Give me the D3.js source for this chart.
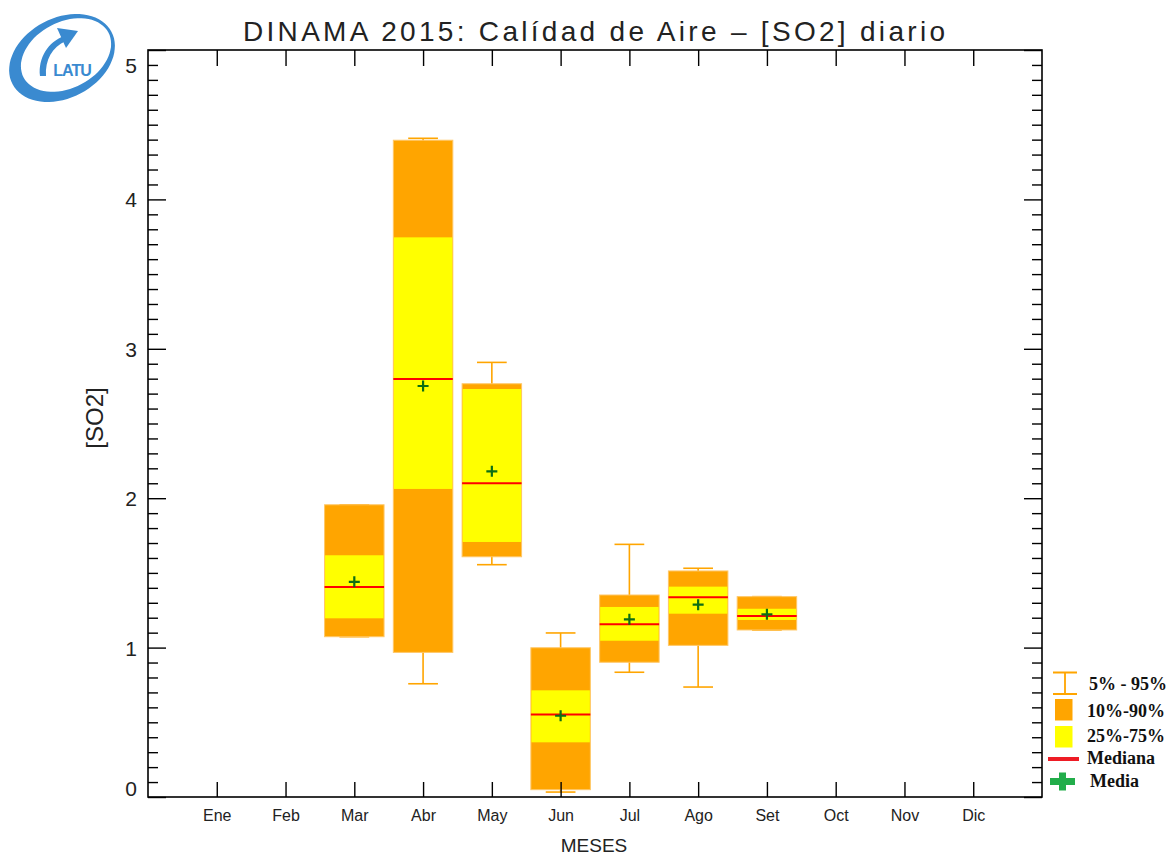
<!DOCTYPE html>
<html>
<head>
<meta charset="utf-8">
<script src="https://cdn.jsdelivr.net/npm/d3@7"></script>
<style>
  html, body { margin: 0; padding: 0; background: #fff; }
  svg { display: block; }
</style>
</head>
<body>
<svg id="chart" width="1173" height="855"></svg>
<script>
// ---- Data ----
const months = ["Ene","Feb","Mar","Abr","May","Jun","Jul","Ago","Set","Oct","Nov","Dic"];
const boxMonths = ["Mar","Abr","May","Jun","Jul","Ago","Set"];
const p5     = [1.073, 0.758, 1.555, 0.033, 0.835, 0.736, 1.118];
const p10    = [1.073, 0.968, 1.608, 0.049, 0.902, 1.015, 1.118];
const p25    = [1.196, 2.062, 1.707, 0.366, 1.046, 1.227, 1.185];
const median = [1.406, 2.798, 2.100, 0.553, 1.156, 1.337, 1.211];
const mean   = [1.440, 2.751, 2.180, 0.544, 1.189, 1.287, 1.223];
const p75    = [1.618, 3.746, 2.731, 0.714, 1.272, 1.408, 1.260];
const p90    = [1.956, 4.396, 2.766, 0.999, 1.352, 1.513, 1.341];
const p95    = [1.956, 4.409, 2.909, 1.098, 1.691, 1.531, 1.341];
const yMajorTicks = [0, 1, 2, 3, 4, 5];
const legendLabels = ["5% - 95%", "10%-90%", "25%-75%", "Mediana", "Media"];
const titleText = "DINAMA 2015: Calídad de Aire – [SO2] diario";

// ---- Layout ----
const L = 148, R = 1042, T = 50, B = 797;
const svg = d3.select("#chart");
const x = d3.scaleLinear().domain([0, 13]).range([L, R]);
const y = d3.scaleLinear().domain([0, 5]).range([B, T]);
const monthPos = m => x(months.indexOf(m) + 1);
const step = x(1) - x(0);
const boxW = step * 0.865;
const capW = boxW * 0.5;

const ORANGE = "#FFA500", YELLOW = "#FFFF00", EDGE = "#FFC766";
const sansFont = "'Liberation Sans', Arial, sans-serif";

// ---- Boxes ----
const data = boxMonths.map((m, i) => ({
  m, p5: p5[i], p10: p10[i], p25: p25[i], med: median[i], mean: mean[i],
  p75: p75[i], p90: p90[i], p95: p95[i]
}));
const g = svg.append("g");
data.forEach(d => {
  const cx = monthPos(d.m);
  // whiskers
  g.append("line").attr("x1", cx).attr("x2", cx).attr("y1", y(d.p95)).attr("y2", y(d.p5))
    .attr("stroke", ORANGE).attr("stroke-width", 1.6);
  [d.p5, d.p95].forEach(v => {
    g.append("line").attr("x1", cx - capW/2).attr("x2", cx + capW/2)
      .attr("y1", y(v)).attr("y2", y(v)).attr("stroke", ORANGE).attr("stroke-width", 1.6);
  });
  // 10-90 box
  g.append("rect").attr("x", cx - boxW/2).attr("width", boxW)
    .attr("y", y(d.p90)).attr("height", y(d.p10) - y(d.p90))
    .attr("fill", ORANGE).attr("stroke", EDGE).attr("stroke-width", 1);
  // 25-75 box
  g.append("rect").attr("x", cx - boxW/2 + 0.5).attr("width", boxW - 1)
    .attr("y", y(d.p75)).attr("height", y(d.p25) - y(d.p75))
    .attr("fill", YELLOW);
  // median
  g.append("line").attr("x1", cx - boxW/2).attr("x2", cx + boxW/2)
    .attr("y1", y(d.med)).attr("y2", y(d.med)).attr("stroke", "#FF0000").attr("stroke-width", 2);
  // mean
  const my = y(d.mean), s = 5.5;
  g.append("path").attr("d", `M${cx - s},${my}H${cx + s}M${cx},${my - s}V${my + s}`)
    .attr("stroke", "#0d6e14").attr("stroke-width", 2.2).attr("fill", "none");
});

// ---- Axes ----
const yMinor = d3.range(0, 51).map(v => v / 10).filter(v => !yMajorTicks.includes(v));
const axisStyle = sel => {
  sel.select(".domain").remove();
  sel.selectAll("line").attr("stroke", "#000").attr("stroke-width", 1.4);
};
// left
svg.append("g").attr("transform", `translate(${L},0)`)
  .call(d3.axisRight(y).tickValues(yMinor).tickSize(10).tickFormat(""))
  .call(axisStyle);
const yl = svg.append("g").attr("transform", `translate(${L},0)`)
  .call(d3.axisRight(y).tickValues(yMajorTicks).tickSize(18).tickFormat(d3.format("d")))
  .call(axisStyle);
yl.selectAll("text").attr("x", -11).attr("text-anchor", "end")
  .attr("font-family", sansFont).attr("font-size", 21).attr("fill", "#222")
  .attr("dy", d => d === 5 ? "1.05em" : d === 0 ? "-0.05em" : "0.36em");
// right
svg.append("g").attr("transform", `translate(${R},0)`)
  .call(d3.axisLeft(y).tickValues(yMinor).tickSize(10).tickFormat(""))
  .call(axisStyle);
svg.append("g").attr("transform", `translate(${R},0)`)
  .call(d3.axisLeft(y).tickValues(yMajorTicks).tickSize(18).tickFormat(""))
  .call(axisStyle);
// bottom
const xTicks = d3.range(1, 13);
const xb = svg.append("g").attr("transform", `translate(0,${B})`)
  .call(d3.axisTop(x).tickValues(xTicks).tickSize(15).tickFormat(i => months[i - 1]))
  .call(axisStyle);
xb.selectAll("text").attr("y", 18).attr("dy", "0.35em")
  .attr("font-family", sansFont).attr("font-size", 16).attr("fill", "#222");
// top
svg.append("g").attr("transform", `translate(0,${T})`)
  .call(d3.axisBottom(x).tickValues(xTicks).tickSize(16).tickFormat(""))
  .call(axisStyle);
// frame
svg.append("rect").attr("x", L).attr("y", T).attr("width", R - L).attr("height", B - T)
  .attr("fill", "none").attr("stroke", "#000").attr("stroke-width", 1.6);

// ---- Titles ----
svg.append("text").attr("x", 594).attr("y", 41).attr("text-anchor", "middle")
  .attr("font-family", sansFont).attr("font-size", 28).attr("fill", "#222")
  .attr("textLength", 702).attr("lengthAdjust", "spacing")
  .text(titleText);
svg.append("text").attr("x", 594).attr("y", 852).attr("text-anchor", "middle")
  .attr("font-family", sansFont).attr("font-size", 19).attr("fill", "#222")
  .text("MESES");
svg.append("text").attr("transform", "translate(103,418) rotate(-90)").attr("text-anchor", "middle")
  .attr("font-family", sansFont).attr("font-size", 24).attr("fill", "#222")
  .text("[SO2]");

// ---- Legend ----
const lg = svg.append("g");
const serif = "'Liberation Serif', 'Times New Roman', serif";
lg.append("path").attr("d", "M1053,672.5H1077M1065,672.5V694M1053,694H1077")
  .attr("stroke", ORANGE).attr("stroke-width", 1.8).attr("fill", "none");
lg.append("rect").attr("x", 1055).attr("y", 699).attr("width", 17.5).attr("height", 21.5).attr("fill", ORANGE);
lg.append("rect").attr("x", 1055).attr("y", 726).attr("width", 17.5).attr("height", 21.5).attr("fill", YELLOW);
lg.append("line").attr("x1", 1048).attr("x2", 1079).attr("y1", 759).attr("y2", 759)
  .attr("stroke", "#ee1c25").attr("stroke-width", 4);
lg.append("path").attr("d", "M1050,781.5H1075M1062.5,772.5V790.5")
  .attr("stroke", "#22ad4a").attr("stroke-width", 7).attr("fill", "none");
const lgPos = [[1089, 690], [1087, 717], [1087, 742], [1087, 764], [1090, 787]];
legendLabels.forEach((t, i) => {
  lg.append("text").attr("x", lgPos[i][0]).attr("y", lgPos[i][1])
    .attr("font-family", serif).attr("font-weight", "bold").attr("font-size", 18)
    .attr("fill", "#111").text(t);
});

// ---- Logo ----
const logo = svg.append("g").attr("fill", "#3a8ad0").attr("stroke", "none");
const ell = (cx, cy, rx, ry, rot, n = 72) => {
  const a = rot * Math.PI / 180;
  let p = "";
  for (let k = 0; k <= n; k++) {
    const t = 2 * Math.PI * k / n;
    const ex = rx * Math.cos(t), ey = ry * Math.sin(t);
    const px = cx + ex * Math.cos(a) - ey * Math.sin(a);
    const py = cy + ex * Math.sin(a) + ey * Math.cos(a);
    p += (k ? "L" : "M") + px.toFixed(1) + "," + py.toFixed(1);
  }
  return p + "Z";
};
logo.append("path").attr("fill-rule", "evenodd")
  .attr("d", ell(62, 58, 56, 40, -28) + ell(66, 55, 48, 33, -28));
// arrow shaft
logo.append("path").attr("d",
  "M40,76 C38,58 48,42 64,36 L66,41 C52,47 45,60 46,76 Z");
// arrow head
logo.append("path").attr("d", "M57,28 L78,31 L66,48 Z");
logo.append("text").attr("x", 72).attr("y", 76).attr("text-anchor", "middle")
  .attr("font-family", sansFont).attr("font-weight", "bold").attr("font-size", 16)
  .attr("letter-spacing", -1).attr("fill", "#3a8ad0").text("LATU");
</script>
</body>
</html>
